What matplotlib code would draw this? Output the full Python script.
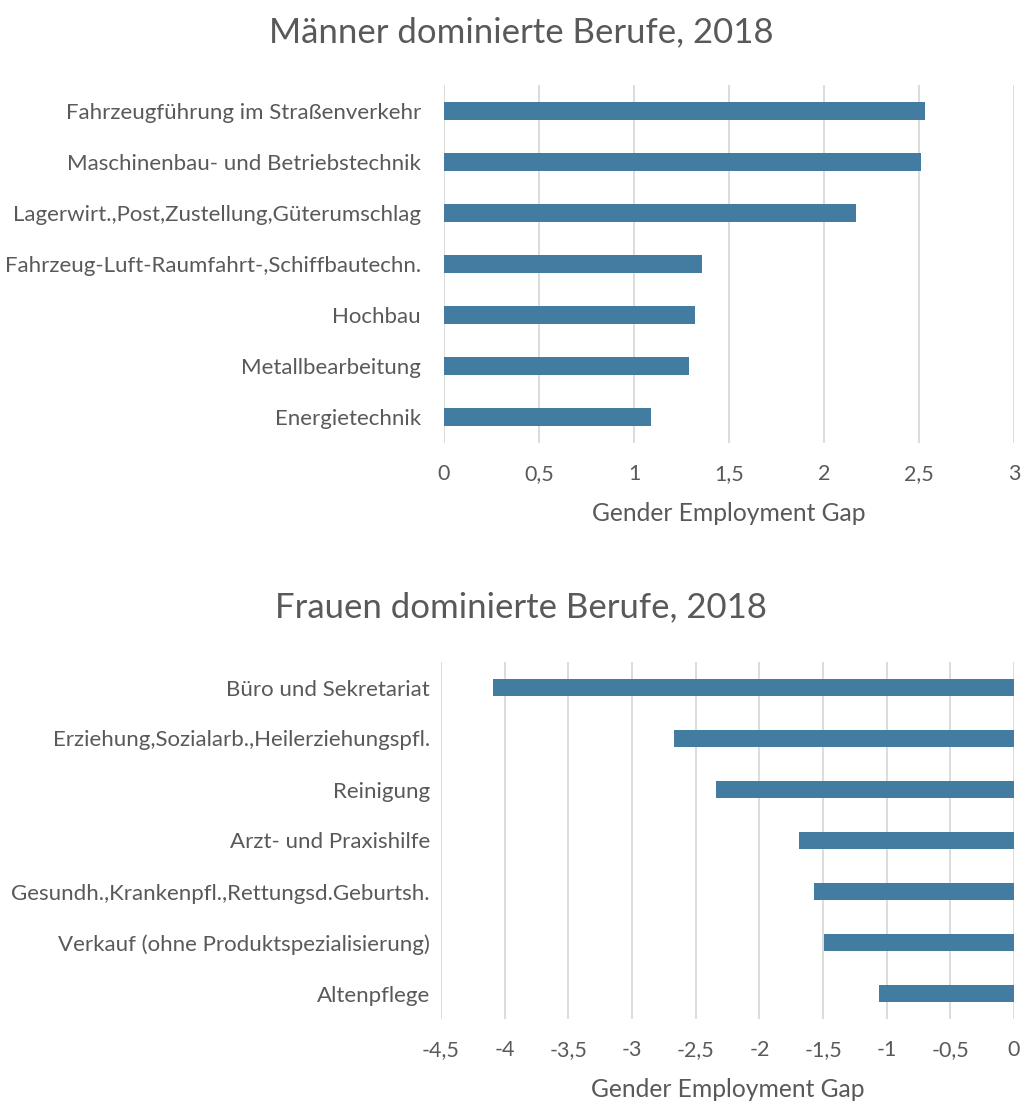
import matplotlib
matplotlib.use("Agg")
import matplotlib.pyplot as plt

plt.rcParams['font.family'] = ['Lato', 'DejaVu Sans']

men_categories = [
    "Fahrzeugführung im Straßenverkehr",
    "Maschinenbau- und Betriebstechnik",
    "Lagerwirt.,Post,Zustellung,Güterumschlag",
    "Fahrzeug-Luft-Raumfahrt-,Schiffbautechn.",
    "Hochbau",
    "Metallbearbeitung",
    "Energietechnik",
]
men_values = [2.53, 2.51, 2.17, 1.36, 1.32, 1.29, 1.09]
men_ticks = [0, 0.5, 1, 1.5, 2, 2.5, 3]
men_ticklabels = ["0", "0,5", "1", "1,5", "2", "2,5", "3"]

women_categories = [
    "Büro und Sekretariat",
    "Erziehung,Sozialarb.,Heilerziehungspfl.",
    "Reinigung",
    "Arzt- und Praxishilfe",
    "Gesundh.,Krankenpfl.,Rettungsd.Geburtsh.",
    "Verkauf (ohne Produktspezialisierung)",
    "Altenpflege",
]
women_values = [-4.09, -2.67, -2.34, -1.69, -1.57, -1.49, -1.06]
women_ticks = [-4.5, -4, -3.5, -3, -2.5, -2, -1.5, -1, -0.5, 0]
women_ticklabels = ["-4,5", "-4", "-3,5", "-3", "-2,5", "-2", "-1,5", "-1", "-0,5", "0"]

BAR = "#427DA1"
GRID = "#D9D9D9"
TXT = "#595959"
W, H = 1022, 1102

fig = plt.figure(figsize=(W / 100, H / 100), dpi=100)


def px_axes(left, top, right, bottom):
    return fig.add_axes([left / W, 1 - bottom / H, (right - left) / W, (bottom - top) / H])


def style(ax, cats, vals, ticks, ticklabels, xlim, ypad):
    y = list(range(len(cats)))
    ax.barh(y, vals, height=0.35, color=BAR, zorder=3)
    ax.set_ylim(len(cats) - 0.5, -0.5)
    ax.set_yticks(y)
    ax.set_yticklabels(cats)
    ax.set_xlim(*xlim)
    ax.set_xticks(ticks)
    ax.set_xticklabels(ticklabels)
    ax.grid(axis='x', color=GRID, linewidth=1.3, zorder=0)
    for s in ax.spines.values():
        s.set_visible(False)
    ax.tick_params(axis='x', length=0, pad=15, labelsize=15.5, labelcolor=TXT)
    ax.tick_params(axis='y', length=0, pad=ypad, labelsize=16, labelcolor=TXT)
    ax.set_xlabel("Gender Employment Gap", fontsize=17.7, color=TXT, labelpad=13)


ax1 = px_axes(444, 85, 1014, 443)
style(ax1, men_categories, men_values, men_ticks, men_ticklabels, (0, 3), 16.5)

ax2 = px_axes(441, 662, 1014, 1019)
style(ax2, women_categories, women_values, women_ticks, women_ticklabels, (-4.5, 0), 8)

fig.text(521 / W, 1 - 42 / H, "Männer dominierte Berufe, 2018", ha='center', va='baseline',
         fontsize=25, color=TXT)
fig.text(521 / W, 1 - 617 / H, "Frauen dominierte Berufe, 2018", ha='center', va='baseline',
         fontsize=25, color=TXT)

fig.savefig("out.png", dpi=100, facecolor='white')
